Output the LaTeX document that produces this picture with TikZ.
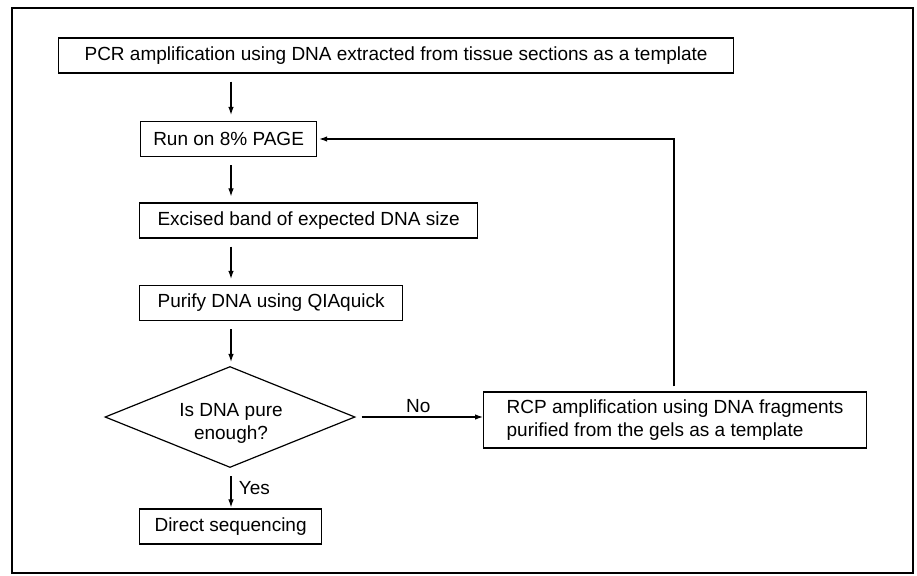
\documentclass[tikz,border=0pt]{standalone}
\usepackage{fontspec}
\setmainfont{Liberation Sans}
\usetikzlibrary{calc,shapes.geometric,arrows.meta}

\begin{document}
\begin{tikzpicture}[x=1pt,y=-1pt,
    txt/.style={font=\fontsize{19}{23}\selectfont},
    stepbox/.style={draw,line width=1.2pt,inner xsep=10pt,inner ysep=0pt,
      minimum height=35pt,anchor=west,txt},
    flow/.style={-{Latex[length=8pt,width=5.5pt]},line width=1.1pt,shorten <=8pt,shorten >=6pt}]
    \useasboundingbox (0,0) rectangle (917,575);
    \draw[line width=1.3pt] (12,8) rectangle (913,573); % outer frame

    \coordinate (col) at (231,0);

    \node[stepbox,minimum width=675pt] (pcr) at (58,55.5) {PCR amplification using DNA extracted from tissue sections as a template};
    \node[stepbox,minimum width=176pt] (run) at (140,139) {Run on 8\% PAGE};
    \node[stepbox,minimum width=338pt] (excise) at (139,220.5) {Excised band of expected DNA size};
    \node[stepbox,minimum width=263pt] (purify) at (139,303) {Purify DNA using QIAquick};
    \node[diamond,draw,line width=1.2pt,aspect=2.5,inner sep=0pt,minimum width=250pt,
      minimum height=101pt] (pure) at (230,417) {};
    \node[txt,align=center] (pureq) at (231,423) {Is DNA pure\\enough?};
    \node[stepbox,minimum width=182pt] (direct) at (139,526.5) {Direct sequencing};
    \node[stepbox,align=left,minimum width=383pt,minimum height=56pt] (rcp) at (483,420) {RCP amplification using DNA fragments\\purified from the gels as a template};

    \draw[flow] (pcr.south -| col) -- (run.north -| col);
    \draw[flow] (run.south -| col) -- (excise.north -| col);
    \draw[flow] (excise.south -| col) -- (purify.north -| col);
    \draw[flow,shorten >=4pt] (purify.south -| col) -- (pure.north -| col);
    \draw[flow,shorten >=1pt] (pure.south -| col) -- node[right,txt,xshift=4pt]{Yes} (direct.north -| col);
    \draw[flow,shorten <=6pt,shorten >=0pt] (pure.east) -- node[above,txt,xshift=-1pt]{No} (pure.east -| rcp.west);
    \draw[flow,shorten <=5pt,shorten >=2pt] (rcp.north -| 674,0) |- (run.east);
\end{tikzpicture}
\end{document}
